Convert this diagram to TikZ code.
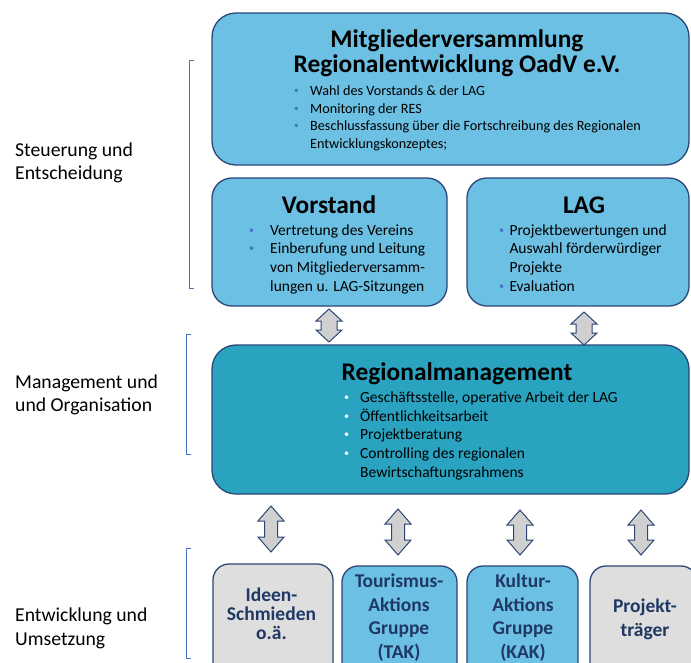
\documentclass[tikz,border=0pt]{standalone}
\usepackage{fontspec}
\usepackage{graphicx}
\setmainfont{Carlito}
\usetikzlibrary{calc}
\definecolor{boxblue}{HTML}{6CC0E3}
\definecolor{rmteal}{HTML}{29A3BF}
\definecolor{boxgray}{HTML}{DEDEDE}
\definecolor{edgenavy}{HTML}{2B4677}
\definecolor{textnavy}{HTML}{1F3864}
\definecolor{bulblue}{HTML}{4472C4}
\definecolor{arrgray}{HTML}{D0D0D0}
\definecolor{brackblue}{HTML}{4472C4}
% centred stack of lines, fixed baseline distance, baseline = first line
\newcommand\cstack[2]{\vtop{\baselineskip=#1\lineskiplimit=-100pt\halign{\hfil##\hfil\cr#2\crcr}}}
% left aligned stack (two columns: bullet, text)
\newcommand\lstack[2]{\vtop{\baselineskip=#1\lineskiplimit=-100pt\halign{##\hfil&##\hfil\cr#2\crcr}}}
\newcommand\bu[2]{\makebox[#1][l]{\textcolor{#2}{\raisebox{0.12em}{\scalebox{0.65}{•}}}}}
% #1 top coordinate, #2 bottom coordinate, #3 head length, #4 half shaft width
\newcommand\DblArr[4]{\draw[blockarr] let \p1=(#1), \p2=(#2) in
 (\x1,\y1) -- (\x1+13pt,\y1-#3) -- (\x1+#4,\y1-#3) -- (\x1+#4,\y2+#3) -- (\x1+13pt,\y2+#3)
 -- (\x2,\y2) -- (\x1-13pt,\y2+#3) -- (\x1-#4,\y2+#3) -- (\x1-#4,\y1-#3) -- (\x1-13pt,\y1-#3) -- cycle;}
\begin{document}
\begin{tikzpicture}[x=1pt,y=-1pt,
  box/.style={draw=edgenavy, line width=1.3pt, inner sep=0pt},
  txt/.style={inner sep=0pt, anchor=base, text=black},
  ltxt/.style={inner sep=0pt, anchor=base west, text=black},
  bigtitle/.style={font=\bfseries\fontsize{25.4}{26}\selectfont},
  smalllist/.style={font=\fontsize{14.2}{17.5}\selectfont},
  midlist/.style={font=\fontsize{15.5}{18.7}\selectfont},
  sidelabel/.style={inner sep=0pt, anchor=base west, text=black, font=\fontsize{19.7}{23.5}\selectfont},
  bottomtext/.style={inner sep=0pt, anchor=base, text=textnavy, font=\bfseries\fontsize{19.5}{23.5}\selectfont},
  blockarr/.style={draw=edgenavy, line width=1pt, fill=arrgray, line join=miter},
  brack/.style={draw=brackblue, line width=1pt}]
\clip (0,0) rectangle (691,662);
\fill[white] (0,0) rectangle (691,662);

% ---------- boxes ----------
\node[box, fill=boxblue, rounded corners=24pt, minimum width=477pt, minimum height=152pt] (mv) at (450.5,89) {};
\node[box, fill=boxblue, rounded corners=20pt, minimum width=235pt, minimum height=128pt] (vorstand) at (329.5,242) {};
\node[box, fill=boxblue, rounded corners=20pt, minimum width=222pt, minimum height=128pt] (lag) at (578,242) {};
\node[box, fill=rmteal, rounded corners=24pt, minimum width=477pt, minimum height=149pt] (rm) at (450.5,419.5) {};
\node[box, fill=boxgray, rounded corners=16pt, minimum width=120pt, minimum height=136pt] (ideen) at (273,632) {};
\node[box, fill=boxblue, rounded corners=16pt, minimum width=115pt, minimum height=134pt] (tak) at (399.5,633) {};
\node[box, fill=boxblue, rounded corners=16pt, minimum width=111pt, minimum height=134pt] (kak) at (522.5,633) {};
\node[box, fill=boxgray, rounded corners=16pt, minimum width=107pt, minimum height=134pt] (projekt) at (643.5,633) {};

% ---------- Mitgliederversammlung ----------
\node[txt, bigtitle] (mvtitle) at (457,47) {\cstack{25.5pt}{Mitgliederversammlung\cr Regionalentwicklung OadV e.V.}};
\node[ltxt, smalllist] (mvlist) at (294,95.5) {\lstack{17.6pt}{%
 \bu{16pt}{bulblue}&Wahl des Vorstands \& der LAG\cr
 \bu{16pt}{bulblue}&Monitoring der RES\cr
 \bu{16pt}{bulblue}&Beschlussfassung über die Fortschreibung des Regionalen\cr
 &Entwicklungskonzeptes;}};

% ---------- Vorstand ----------
\node[txt, bigtitle] (vtitle) at (329,213.5) {Vorstand};
\node[ltxt, midlist] (vlist) at (249,235) {\lstack{18.7pt}{%
 \bu{21pt}{bulblue}&Vertretung des Vereins\cr
 \bu{21pt}{bulblue}&Einberufung und Leitung\cr
 &von Mitgliederversamm-\cr
 &lungen u. LAG-Sitzungen}};

% ---------- LAG ----------
\node[txt, bigtitle] (lagtitle) at (584,213.5) {LAG};
\node[ltxt, midlist] (laglist) at (499,235) {\lstack{18.7pt}{%
 \bu{10.3pt}{bulblue}&Projektbewertungen und\cr
 &Auswahl förderwürdiger\cr
 &Projekte\cr
 \bu{10.3pt}{bulblue}&Evaluation}};

% ---------- Regionalmanagement ----------
\node[txt, bigtitle] (rmtitle) at (457,380) {Regionalmanagement};
\node[ltxt, midlist] (rmlist) at (344,402.3) {\lstack{18.75pt}{%
 \bu{16pt}{white}&Geschäftsstelle, operative Arbeit der LAG\cr
 \bu{16pt}{white}&Öffentlichkeitsarbeit\cr
 \bu{16pt}{white}&Projektberatung\cr
 \bu{16pt}{white}&Controlling des regionalen\cr
 &Bewirtschaftungsrahmens}};

% ---------- bottom texts ----------
\node[bottomtext] (ideentxt) at (271.5,601.7) {\cstack{18.8pt}{Ideen-\cr Schmieden\cr o.ä.}};
\node[bottomtext] (taktxt) at (399,587.5) {\cstack{23.6pt}{Tourismus-\cr Aktions\cr Gruppe\cr (TAK)}};
\node[bottomtext] (kaktxt) at (523,587.5) {\cstack{23.6pt}{Kultur-\cr Aktions\cr Gruppe\cr (KAK)}};
\node[bottomtext] (projtxt) at (645,612.3) {\cstack{24.4pt}{Projekt-\cr träger}};

% ---------- side labels ----------
\node[sidelabel] (lab1) at (15,156) {\cstack{23.4pt}{\hbox{Steuerung und}\hfill\cr \hbox{Entscheidung}\hfill}};
\node[sidelabel] (lab2) at (15,388.3) {\cstack{23.4pt}{\hbox{Management und}\hfill\cr \hbox{und Organisation}\hfill}};
\node[sidelabel] (lab3) at (15,621.7) {\cstack{23.4pt}{\hbox{Entwicklung und}\hfill\cr \hbox{Umsetzung}\hfill}};

% ---------- brackets ----------
\draw[brack] (194,60) -- (189,60) -- (189,288) -- (194,288);
\draw[brack] (191,334) -- (186,334) -- (186,454) -- (191,454);
\draw[brack] (191,548) -- (186,548) -- (186,658) -- (191,658);

% ---------- double arrows ----------
\coordinate (a1t) at (329,309); \coordinate (a1b) at (329,342);
\coordinate (a2t) at (584,312); \coordinate (a2b) at (584,345);
\coordinate (b1t) at (271,506); \coordinate (b1b) at (271,552);
\coordinate (b2t) at (398,509); \coordinate (b2b) at (398,555);
\coordinate (b3t) at (520,510); \coordinate (b3b) at (520,555);
\coordinate (b4t) at (641,510); \coordinate (b4b) at (641,555);
\DblArr{a1t}{a1b}{12pt}{8pt}
\DblArr{a2t}{a2b}{12pt}{8pt}
\DblArr{b1t}{b1b}{15pt}{6.5pt}
\DblArr{b2t}{b2b}{15pt}{6.5pt}
\DblArr{b3t}{b3b}{15pt}{6.5pt}
\DblArr{b4t}{b4b}{15pt}{6.5pt}
\end{tikzpicture}
\end{document}
